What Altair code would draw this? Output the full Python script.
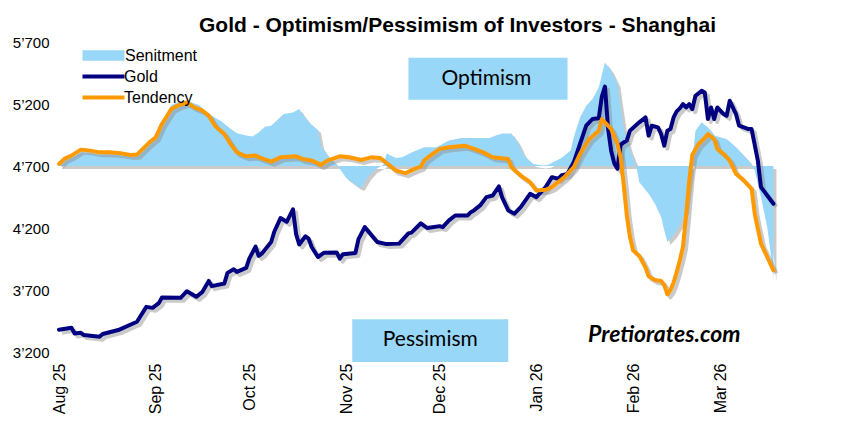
import altair as alt
import pandas as pd

# ---------------- data ----------------
START = "2025-08-01"          # first day of the series
# day offsets since START and values for each series
gold_day = [0, 4, 5, 7, 8, 13, 14, 19, 25, 28, 30, 32, 33, 39, 41, 44, 46, 48, 49, 53, 54, 56, 57, 60,
            61, 63, 64, 65, 68, 69, 71, 73, 75, 76, 77, 79, 80, 81, 83, 85, 89, 90, 91, 95, 96, 98,
            102, 105, 109, 112, 113, 116, 118, 122, 123, 125, 127, 131, 132, 133, 135, 137, 139, 141,
            142, 144, 146, 148, 151, 153, 156, 158, 160, 161, 163, 165, 167, 169, 171, 173, 174, 175,
            176, 177, 178, 179, 180, 181, 182, 183, 186, 188, 189, 190, 192, 193, 194, 195, 196, 197,
            198, 199, 200, 201, 202, 203, 204, 206, 207, 208, 209, 210, 211, 213, 214, 215, 217, 218,
            221, 222, 224, 225, 227, 229]
gold_val = [3380, 3395, 3350, 3355, 3337, 3323, 3345, 3377, 3444, 3564, 3556, 3594, 3640, 3637, 3690,
            3645, 3685, 3773, 3731, 3752, 3838, 3867, 3846, 3878, 3953, 4050, 3975, 3993, 4087, 4170,
            4280, 4250, 4350, 4150, 4067, 4133, 4114, 4047, 3966, 4001, 4003, 3953, 3988, 3998, 4110,
            4207, 4087, 4070, 4074, 4157, 4163, 4238, 4200, 4215, 4207, 4261, 4301, 4301, 4328, 4342,
            4382, 4449, 4462, 4535, 4449, 4342, 4315, 4368, 4476, 4449, 4530, 4610, 4597, 4623, 4637,
            4730, 4878, 5025, 5079, 5085, 5260, 5340, 5000, 4820, 4720, 4677, 4870, 4890, 4905, 4985,
            5052, 5092, 4945, 5025, 5011, 4958, 4864, 4985, 4998, 5092, 5140, 5165, 5199, 5172, 5199,
            5159, 5266, 5306, 5293, 5079, 5172, 5079, 5172, 5119, 5105, 5226, 5119, 5025, 4998, 4998,
            4744, 4530, 4462, 4396]

tend_day = [0, 2, 4, 7, 10, 13, 16, 20, 23, 25, 29, 31, 33, 36, 38, 41, 43, 46, 48, 50, 53, 55, 57, 60,
            63, 65, 68, 71, 76, 78, 81, 84, 86, 90, 93, 97, 100, 103, 106, 108, 111, 114, 116, 117, 119,
            122, 125, 130, 133, 136, 139, 144, 145, 148, 151, 153, 156, 158, 162, 165, 167, 170, 173,
            174, 177, 179, 180, 181, 182, 183, 184, 186, 188, 189, 191, 193, 194, 195, 196, 197, 198,
            199, 200, 201, 202, 203, 205, 207, 208, 210, 211, 213, 215, 217, 219, 222, 223, 225, 227, 229]
tend_val = [4717, 4762, 4784, 4832, 4824, 4810, 4810, 4802, 4789, 4792, 4891, 4931, 5039, 5159, 5186,
            5213, 5178, 5146, 5106, 5025, 4958, 4878, 4810, 4778, 4784, 4762, 4735, 4770, 4778, 4757,
            4744, 4709, 4744, 4778, 4770, 4749, 4770, 4765, 4704, 4663, 4642, 4677, 4695, 4744, 4784,
            4838, 4851, 4864, 4838, 4810, 4770, 4757, 4690, 4623, 4569, 4502, 4508, 4530, 4610, 4690,
            4797, 4918, 4985, 5079, 4998, 4878, 4770, 4550, 4300, 4130, 4020, 3975, 3880, 3810, 3780,
            3773, 3740, 3664, 3700, 3760, 3846, 3940, 4050, 4300, 4580, 4790, 4878, 4926, 4958, 4918,
            4838, 4797, 4744, 4637, 4597, 4516, 4315, 4074, 3966, 3859]

sent_day = [0, 2, 4, 7, 10, 13, 16, 20, 23, 25, 29, 31, 33, 36, 38, 41, 45, 48, 52, 55, 57, 60, 62, 64,
            66, 68, 72, 75, 77, 78, 80, 83, 84, 86, 89, 92, 96, 97, 99, 101, 104, 105, 108, 110, 113,
            117, 121, 125, 129, 135, 138, 140, 142, 145, 147, 149, 152, 155, 157, 161, 164, 165, 167,
            169, 171, 173, 175, 177, 179, 180, 181, 183, 185, 186, 189, 191, 193, 194, 195, 197, 199,
            201, 202, 203, 204, 206, 208, 210, 214, 217, 219, 221, 223, 225, 227, 228, 229]
sent_val = [4705, 4745, 4765, 4810, 4805, 4790, 4795, 4785, 4775, 4780, 4880, 4925, 5030, 5190, 5215,
            5226, 5190, 5120, 5060, 5000, 4965, 4945, 4937, 4971, 5017, 5025, 5119, 5132, 5159, 5119,
            5055, 4990, 4860, 4784, 4715, 4605, 4530, 4525, 4610, 4665, 4710, 4800, 4765, 4770, 4808,
            4851, 4851, 4905, 4926, 4926, 4926, 4945, 4963, 4963, 4891, 4784, 4717, 4704, 4712, 4765,
            4824, 4931, 5092, 5186, 5240, 5333, 5534, 5467, 5360, 5180, 5011, 4824, 4704, 4569, 4476,
            4396, 4288, 4181, 4087, 4141, 4221, 4342, 4556, 4744, 4985, 5052, 5011, 4945, 4918, 4851,
            4797, 4744, 4663, 4449, 4207, 4020, 3790]

BASELINE = 4700
y_ticks = [3200, 3700, 4200, 4700, 5200, 5700]
month_ticks = [(2025, 8), (2025, 9), (2025, 10), (2025, 11), (2025, 12), (2026, 1), (2026, 2), (2026, 3)]

# annotation texts and where they sit (in data units)
ann_label = ["Optimism", "Pessimism"]
ann_start = ["2025-11-21", "2025-11-03"]
ann_end = ["2026-01-11", "2025-12-23"]
ann_top = [5572, 3465]
ann_bottom = [5234, 3120]
ann_mid = ["2025-12-16", "2025-11-28"]
ann_midv = [5403, 3297]

brand = "Pretiorates.com"
brand_date = "2026-02-11T00:00:00"
brand_val = 3337

# ---------------- styles ----------------
NAVY = "#000080"
ORANGE = "#FF9900"
SKY = "#99D7F8"
FONT = "Liberation Sans"


def to_dates(days):
    idx = pd.Timestamp(START) + pd.to_timedelta(days, unit="D")
    return list(idx.strftime("%Y-%m-%dT%H:%M:%S"))


sent_df = pd.DataFrame({"date": to_dates(sent_day), "value": sent_val, "s1": "Senitment"})
line_df = pd.concat([
    pd.DataFrame({"date": to_dates(gold_day), "value": gold_val, "s2": "Gold"}),
    pd.DataFrame({"date": to_dates(tend_day), "value": tend_val, "s2": "Tendency"}),
], ignore_index=True)
ann_df = pd.DataFrame({"label": ann_label, "start": ann_start, "end": ann_end,
                       "top": ann_top, "bottom": ann_bottom, "mid": ann_mid, "midv": ann_midv})
brand_df = pd.DataFrame({"label": [brand], "date": [brand_date], "value": [brand_val]})

x_scale = alt.Scale(domain=[alt.DateTime(year=2025, month=8, date=1),
                            alt.DateTime(year=2026, month=3, date=31)])
y_scale = alt.Scale(domain=[3200, 5700], nice=False, zero=False)

x_axis = alt.Axis(values=[alt.DateTime(year=y, month=m, date=1) for y, m in month_ticks],
                  format="%b %y", labelAngle=270, labelFontSize=16, labelFont=FONT,
                  labelColor="#000", labelPadding=11, grid=False, domain=False, ticks=False,
                  title=None, labelOverlap=False, labelFlush=False)
y_axis = alt.Axis(values=y_ticks, labelExpr="replace(format(datum.value, ','), ',', '’')",
                  labelFontSize=15, labelFont=FONT, labelColor="#000", labelPadding=10,
                  grid=False, domain=False, ticks=False, title=None)

X = alt.X("date:T", scale=x_scale, axis=x_axis)
Y = alt.Y("value:Q", scale=y_scale, axis=y_axis)

area_shadow = alt.Chart(sent_df).mark_area(color="#8a8a8a", opacity=0.45, xOffset=3, yOffset=3,
                                           y2Offset=3).encode(x=X, y=Y, y2=alt.Y2Datum(BASELINE))
area = alt.Chart(sent_df).mark_area(opacity=1).encode(
    x=X, y=Y, y2=alt.Y2Datum(BASELINE),
    fill=alt.Fill("s1:N", scale=alt.Scale(domain=["Senitment"], range=[SKY]),
                  legend=alt.Legend(title=None, orient="none", legendX=34, legendY=3,
                                    symbolType="M-2,-0.5H2V0.5H-2Z", symbolSize=441,
                                    symbolStrokeWidth=0, symbolOpacity=1,
                                    labelFontSize=16, labelFont=FONT, labelColor="#000",
                                    labelOffset=11, padding=0)))

line_shadow = alt.Chart(line_df).mark_line(color="#8a8a8a", opacity=0.45, strokeWidth=4,
                                           xOffset=3, yOffset=3, strokeJoin="round").encode(
    x=X, y=Y, detail="s2:N")
lines = alt.Chart(line_df).mark_line(strokeWidth=4, strokeJoin="round", strokeCap="round").encode(
    x=X, y=Y,
    stroke=alt.Stroke("s2:N", scale=alt.Scale(domain=["Gold", "Tendency"], range=[NAVY, ORANGE]),
                      legend=alt.Legend(title=None, orient="none", legendX=32, legendY=22,
                                        symbolType="M-2,0H2", symbolSize=441, symbolStrokeWidth=4,
                                        labelFontSize=16, labelFont=FONT, labelColor="#000",
                                        labelOffset=8, padding=0, rowPadding=0)))

boxes = alt.Chart(ann_df).mark_rect(color=SKY, opacity=1).encode(
    x=alt.X("start:T", scale=x_scale, axis=x_axis), x2="end:T",
    y=alt.Y("top:Q", scale=y_scale, axis=y_axis), y2="bottom:Q")
box_text = alt.Chart(ann_df).mark_text(font="Lato", fontSize=21, color="#000", align="center",
                                       baseline="middle").encode(
    x=alt.X("mid:T", scale=x_scale, axis=x_axis),
    y=alt.Y("midv:Q", scale=y_scale, axis=y_axis), text="label:N")

brand_text = alt.Chart(brand_df).mark_text(font="Lato", fontSize=23, fontWeight="bold",
                                           fontStyle="italic", color="#000", align="center",
                                           baseline="middle").encode(x=X, y=Y, text="label:N")

chart = alt.layer(area_shadow, area, line_shadow, lines, boxes, box_text, brand_text).properties(
    width=755, height=310,
    title=alt.TitleParams("Gold - Optimism/Pessimism of Investors - Shanghai", font=FONT, fontSize=21,
                          fontWeight="bold", color="#000", anchor="middle", dx=21, dy=27, offset=9,
                          baseline="alphabetic"),
    autosize=alt.AutoSizeParams(type="none"),
    padding={"left": 51, "top": 34, "right": 20, "bottom": 64},
    background="white",
).configure_view(stroke=None)

chart.save("out.html", embed_options={"renderer": "svg", "actions": False})
